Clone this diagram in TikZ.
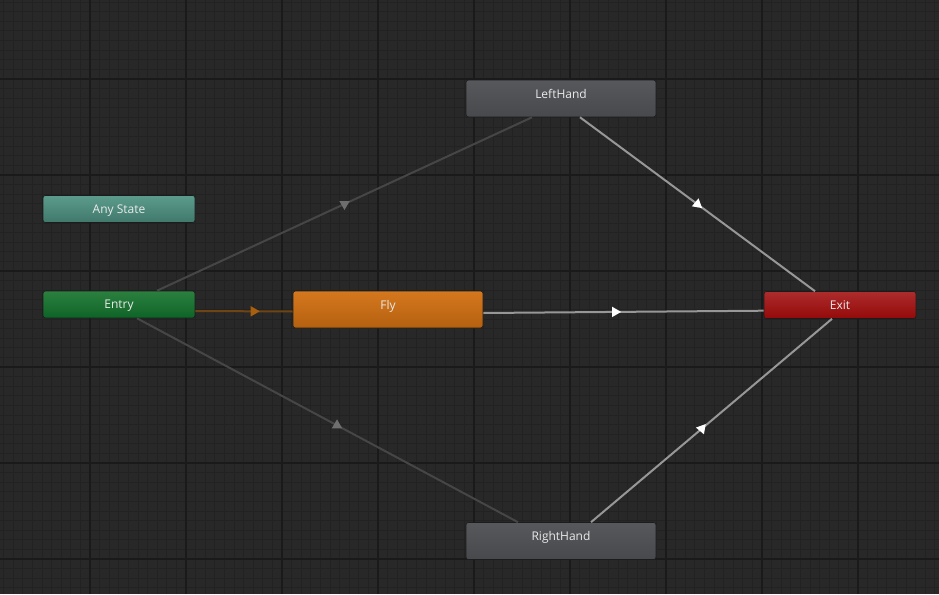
\documentclass[tikz,border=0pt]{standalone}
\usepackage{fontspec}
\setmainfont{Open Sans}
\usepackage{tikz}
\usetikzlibrary{shapes.geometric}

\definecolor{bgcol}{HTML}{282828}
\definecolor{minorcol}{HTML}{222222}
\definecolor{majorcol}{HTML}{1A1A1A}
\definecolor{labelcol}{HTML}{EAEAEA}
\definecolor{rimcol}{HTML}{1C1C1C}
\definecolor{litcol}{HTML}{979797}
\definecolor{dimcol}{HTML}{464646}
\definecolor{dimtipcol}{HTML}{6E6E6E}
\definecolor{flowcol}{HTML}{6E4414}
\definecolor{flowtipcol}{HTML}{A8600F}
\definecolor{anytop}{HTML}{5B9C8C}
\definecolor{anybot}{HTML}{41786C}
\definecolor{entrytop}{HTML}{2B8040}
\definecolor{entrybot}{HTML}{0E6426}
\definecolor{flytop}{HTML}{D5781F}
\definecolor{flybot}{HTML}{B4600F}
\definecolor{exittop}{HTML}{AC2C2C}
\definecolor{exitbot}{HTML}{950A0A}
\definecolor{handtop}{HTML}{57585C}
\definecolor{handbot}{HTML}{48494D}

\begin{document}
\begin{tikzpicture}[x=1pt,y=-1pt]
  \tikzstyle{state}=[draw=rimcol,line width=0.6pt,rounded corners=2.5pt,
    text=labelcol,inner sep=0pt,text height=8pt,text depth=0pt,
    font=\fontsize{12}{14}\selectfont]
  \tikzstyle{short}=[state,minimum width=152pt,minimum height=27pt]
  \tikzstyle{tall}=[state,minimum width=190pt,minimum height=37pt,text depth=9pt]
  \tikzstyle{tip}=[regular polygon,regular polygon sides=3,minimum size=12pt,
    inner sep=0pt,draw=none]
  \tikzstyle{lit}=[draw=litcol,line width=2pt]
  \tikzstyle{dim}=[draw=dimcol,line width=2pt]

  \fill[bgcol] (0,0) rectangle (939,594);
  \useasboundingbox (0,0) rectangle (939,594);
  \foreach \i in {0,...,97}
    \draw[minorcol,line width=1pt] ({3.6+9.6*\i},0) -- ({3.6+9.6*\i},594);
  \foreach \j in {0,...,61}
    \draw[minorcol,line width=1pt] (0,{2.2+9.6*\j}) -- (939,{2.2+9.6*\j});
  \foreach \i in {90,186,...,858}
    \draw[majorcol,line width=1.5pt] (\i,0) -- (\i,594);
  \foreach \j in {79,175,...,559}
    \draw[majorcol,line width=1.5pt] (0,\j) -- (939,\j);

  \node[short,top color=anytop,bottom color=anybot] (any) at (119,209) {Any State};
  \node[short,top color=entrytop,bottom color=entrybot] (entry) at (119,304.5) {Entry};
  \node[tall,top color=flytop,bottom color=flybot] (fly) at (388,309.5) {Fly};
  \node[short,top color=exittop,bottom color=exitbot] (exit) at (840,305) {Exit};
  \node[tall,top color=handtop,bottom color=handbot] (lh) at (561,98.5) {LeftHand};
  \node[tall,top color=handtop,bottom color=handbot] (rh) at (561,541) {RightHand};

  \draw[dim] ([xshift=-29pt]lh.south) -- node[tip,fill=dimtipcol,rotate=180] {} ([xshift=38pt]entry.north);
  \draw[dim] ([xshift=-43pt]rh.north) -- node[tip,fill=dimtipcol,pos=0.475] {} ([xshift=18pt]entry.south);
  \draw[draw=flowcol,line width=2pt] ([yshift=-6.5pt]entry.east) -- node[tip,fill=flowtipcol,rotate=-90,pos=0.6] {} ([yshift=-2pt]fly.west);
  \draw[lit] ([yshift=-3.5pt]fly.east) -- node[tip,fill=white,rotate=-90,pos=0.47] {} ([yshift=-5.7pt]exit.west);
  \draw[lit] ([xshift=19pt]lh.south) -- node[tip,fill=white,rotate=-10] {} ([xshift=-25pt]exit.north);
  \draw[lit] ([xshift=30pt]rh.north) -- node[tip,fill=white,rotate=200,pos=0.46] {} ([xshift=-8pt]exit.south);
\end{tikzpicture}
\end{document}
